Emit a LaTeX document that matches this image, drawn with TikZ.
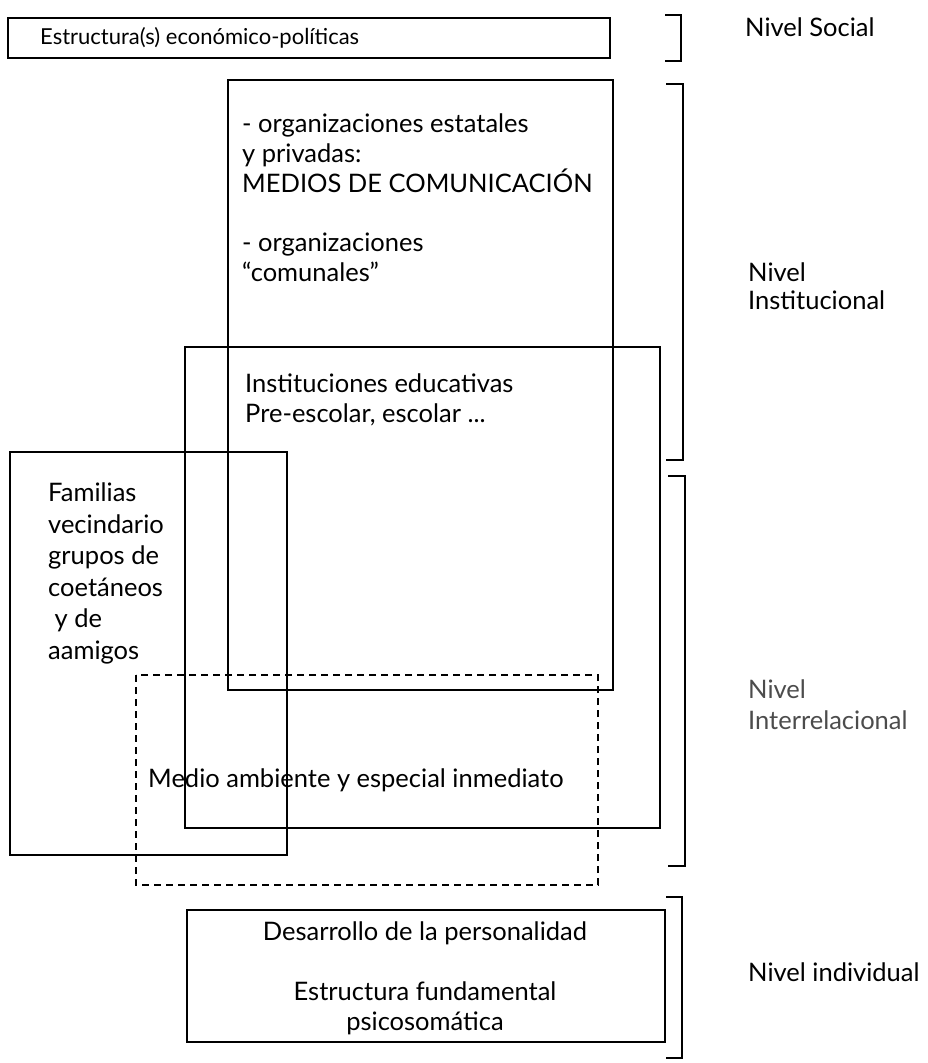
\documentclass[tikz,border=0pt]{standalone}
\usepackage{fontspec}
\setmainfont{Lato}
\usetikzlibrary{positioning}
\tikzstyle{caja} = [draw=black, line width=1.6pt]
\tikzstyle{punteada} = [draw=black, line width=1.5pt, dash pattern=on 7pt off 5pt]
\tikzstyle{llave} = [draw=black, line width=1.6pt]
\tikzstyle{texto} = [align=left, inner sep=0pt, anchor=north west, font=\fontsize{25.5}{30}\selectfont]
\tikzstyle{nivel} = [texto, font=\fontsize{25.5}{28}\selectfont]

\begin{document}
\begin{tikzpicture}[x=1pt,y=-1pt]
\useasboundingbox (0,0) rectangle (928,1063);
% cajas
\draw [caja] (8,18) rectangle (610,58);
\draw [caja] (228,80) rectangle (613,690);
\draw [caja] (185,347) rectangle (660,828);
\draw [caja] (10,452) rectangle (287,855);
\draw [punteada] (136,675) rectangle (598,885);
\draw [caja] (187,910) rectangle (665,1042);
% textos de las cajas
\node (eco) [texto, font=\fontsize{22}{26}\selectfont] at (40,27) {Estructura(s) económico-políticas};
\node (org) [texto] at (242,114) {- organizaciones estatales\\ y privadas:\\ MEDIOS DE COMUNICACIÓN\\[29pt] - organizaciones\\ “comunales”};
\node (edu) [texto] at (245,374) {Instituciones educativas\\ Pre-escolar, escolar ...};
\node (fam) [texto, font=\fontsize{25.5}{31.5}\selectfont] at (48,483) {Familias\\ vecindario\\ grupos de\\ coetáneos\\ \hspace{0.25em}y de\\ aamigos};
\node (med) [texto] at (148,769) {Medio ambiente y especial inmediato};
\node (per) [texto, align=center, anchor=north] at (425,922) {Desarrollo de la personalidad\\[30pt] Estructura fundamental\\ psicosomática};
% llaves
\draw [llave] (665,15) -- (681,15) -- (681,61) -- (665,61);
\draw [llave] (666,84) -- (683,84) -- (683,460) -- (666,460);
\draw [llave] (668,476) -- (685,476) -- (685,866) -- (668,866);
\draw [llave] (666,897) -- (682,897) -- (682,1058) -- (666,1058);
% niveles
\node (soc) [nivel] at (745,18) {Nivel Social};
\node (ins) [nivel] at (748,263) {Nivel\\ Institucional};
\node (rel) [nivel, text=black!70, font=\fontsize{25.5}{31}\selectfont] at (748,680) {Nivel\\ Interrelacional};
\node (ind) [nivel] at (748,963) {Nivel individual};
\end{tikzpicture}
\end{document}
